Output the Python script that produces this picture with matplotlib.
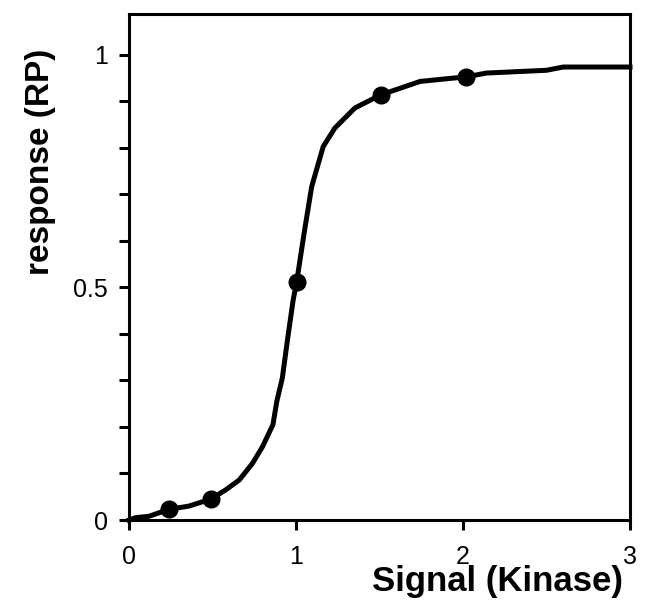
import matplotlib.pyplot as plt
import numpy as np
from matplotlib.ticker import MultipleLocator

plt.rcParams['font.family'] = ['Liberation Sans', 'DejaVu Sans']

# curve of response vs signal
signal_curve = [0.0, 0.04, 0.12, 0.24, 0.36, 0.49, 0.58, 0.66, 0.74, 0.8, 0.862,
                0.885, 0.918, 0.95, 0.983, 1.004, 1.05, 1.094, 1.163, 1.233, 1.353,
                1.507, 1.743, 2.02, 2.14, 2.5, 2.6, 3.0]
response_curve = [0.0, 0.005, 0.008, 0.023, 0.03, 0.045, 0.065, 0.086, 0.122, 0.158,
                  0.205, 0.255, 0.305, 0.39, 0.473, 0.512, 0.62, 0.717, 0.803, 0.843,
                  0.886, 0.914, 0.943, 0.953, 0.961, 0.967, 0.974, 0.974]

# measured points
signal_pts = [0.24, 0.49, 1.004, 1.507, 2.02]
response_pts = [0.023, 0.045, 0.512, 0.914, 0.953]

fig = plt.figure(figsize=(6.46, 6.08), dpi=100)
ax = fig.add_axes([129 / 646, 88 / 608, 501 / 646, 506 / 608])

ax.plot(signal_curve, response_curve, color='black', linewidth=3.6,
        solid_joinstyle='round', clip_on=False)
ax.plot(signal_pts, response_pts, 'o', color='black', markersize=12, clip_on=False)

ax.set_xlim(0, 3)
ax.set_ylim(0, 1.088)
ax.set_xticks([0, 1, 2, 3])
ax.set_yticks([0, 0.5, 1])
ax.set_yticklabels(['0', '0.5', '1'])
ax.yaxis.set_minor_locator(MultipleLocator(0.1))

for s in ax.spines.values():
    s.set_linewidth(2.2)

ax.tick_params(axis='both', which='both', direction='out', width=2.2, length=7,
               labelsize=18)
ax.tick_params(axis='x', pad=11)
ax.tick_params(axis='y', pad=8)

ax.set_xlabel('Signal (Kinase)', fontsize=25, fontweight='bold')
ax.xaxis.set_label_coords(0.735, -0.122)
ax.xaxis.label.set_va('center')
ax.set_ylabel('response (RP)', fontsize=24, fontweight='bold')
ax.yaxis.set_label_coords(-0.176, 0.707)
ax.yaxis.label.set_va('center')

fig.savefig('out.png', dpi=100)
